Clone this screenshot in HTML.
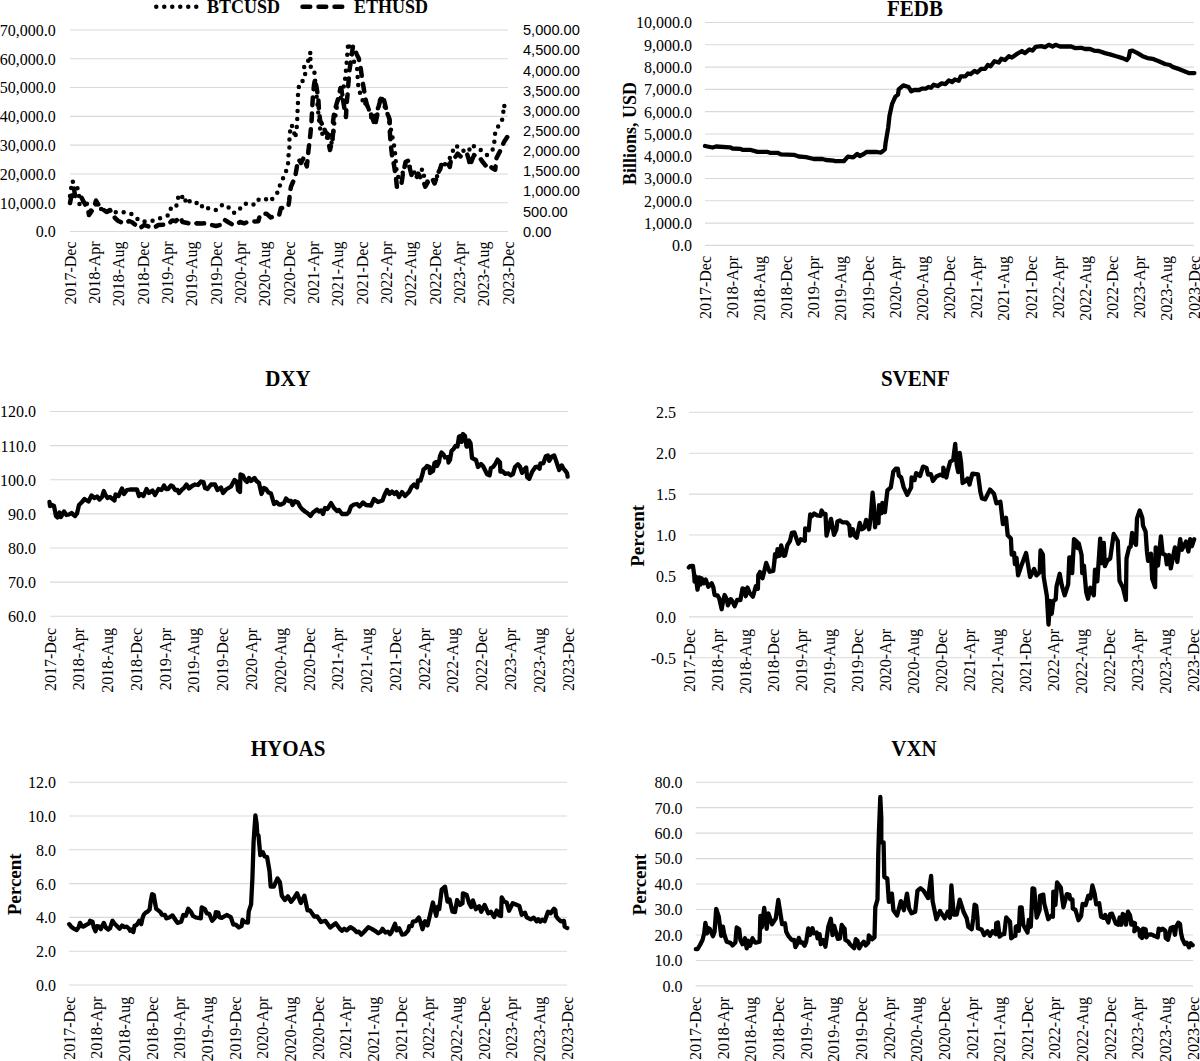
<!DOCTYPE html>
<html><head><meta charset="utf-8"><title>Charts</title>
<style>html,body{margin:0;padding:0;background:#fff;overflow:hidden}svg{display:block}</style>
</head><body>
<svg width="1200" height="1061" viewBox="0 0 1200 1061">
<rect width="1200" height="1061" fill="#fff"/>
<line x1="70" y1="30.00" x2="508" y2="30.00" stroke="#d9d9d9" stroke-width="1.1"/>
<line x1="70" y1="58.79" x2="508" y2="58.79" stroke="#d9d9d9" stroke-width="1.1"/>
<line x1="70" y1="87.57" x2="508" y2="87.57" stroke="#d9d9d9" stroke-width="1.1"/>
<line x1="70" y1="116.36" x2="508" y2="116.36" stroke="#d9d9d9" stroke-width="1.1"/>
<line x1="70" y1="145.14" x2="508" y2="145.14" stroke="#d9d9d9" stroke-width="1.1"/>
<line x1="70" y1="173.93" x2="508" y2="173.93" stroke="#d9d9d9" stroke-width="1.1"/>
<line x1="70" y1="202.71" x2="508" y2="202.71" stroke="#d9d9d9" stroke-width="1.1"/>
<line x1="70" y1="231.50" x2="508" y2="231.50" stroke="#d9d9d9" stroke-width="1.1"/>
<text transform="translate(55.8,35.90) scale(1,1.0)" font-family="'Liberation Serif', serif" font-size="16" text-anchor="end">70,000.0</text>
<text transform="translate(55.8,64.69) scale(1,1.0)" font-family="'Liberation Serif', serif" font-size="16" text-anchor="end">60,000.0</text>
<text transform="translate(55.8,93.47) scale(1,1.0)" font-family="'Liberation Serif', serif" font-size="16" text-anchor="end">50,000.0</text>
<text transform="translate(55.8,122.26) scale(1,1.0)" font-family="'Liberation Serif', serif" font-size="16" text-anchor="end">40,000.0</text>
<text transform="translate(55.8,151.04) scale(1,1.0)" font-family="'Liberation Serif', serif" font-size="16" text-anchor="end">30,000.0</text>
<text transform="translate(55.8,179.83) scale(1,1.0)" font-family="'Liberation Serif', serif" font-size="16" text-anchor="end">20,000.0</text>
<text transform="translate(55.8,208.61) scale(1,1.0)" font-family="'Liberation Serif', serif" font-size="16" text-anchor="end">10,000.0</text>
<text transform="translate(55.8,237.40) scale(1,1.0)" font-family="'Liberation Serif', serif" font-size="16" text-anchor="end">0.0</text>
<text transform="translate(523,35.20) scale(1,1.0)" font-family="'Liberation Sans', sans-serif" font-size="14.6" text-anchor="start">5,000.00</text>
<text transform="translate(523,55.35) scale(1,1.0)" font-family="'Liberation Sans', sans-serif" font-size="14.6" text-anchor="start">4,500.00</text>
<text transform="translate(523,75.50) scale(1,1.0)" font-family="'Liberation Sans', sans-serif" font-size="14.6" text-anchor="start">4,000.00</text>
<text transform="translate(523,95.65) scale(1,1.0)" font-family="'Liberation Sans', sans-serif" font-size="14.6" text-anchor="start">3,500.00</text>
<text transform="translate(523,115.80) scale(1,1.0)" font-family="'Liberation Sans', sans-serif" font-size="14.6" text-anchor="start">3,000.00</text>
<text transform="translate(523,135.95) scale(1,1.0)" font-family="'Liberation Sans', sans-serif" font-size="14.6" text-anchor="start">2,500.00</text>
<text transform="translate(523,156.10) scale(1,1.0)" font-family="'Liberation Sans', sans-serif" font-size="14.6" text-anchor="start">2,000.00</text>
<text transform="translate(523,176.25) scale(1,1.0)" font-family="'Liberation Sans', sans-serif" font-size="14.6" text-anchor="start">1,500.00</text>
<text transform="translate(523,196.40) scale(1,1.0)" font-family="'Liberation Sans', sans-serif" font-size="14.6" text-anchor="start">1,000.00</text>
<text transform="translate(523,216.55) scale(1,1.0)" font-family="'Liberation Sans', sans-serif" font-size="14.6" text-anchor="start">500.00</text>
<text transform="translate(523,236.70) scale(1,1.0)" font-family="'Liberation Sans', sans-serif" font-size="14.6" text-anchor="start">0.00</text>
<text transform="translate(75.60,241.5) rotate(-90) scale(1,1.05)" font-family="'Liberation Serif', serif" font-size="16" text-anchor="end">2017-Dec</text>
<text transform="translate(99.93,241.5) rotate(-90) scale(1,1.05)" font-family="'Liberation Serif', serif" font-size="16" text-anchor="end">2018-Apr</text>
<text transform="translate(124.27,241.5) rotate(-90) scale(1,1.05)" font-family="'Liberation Serif', serif" font-size="16" text-anchor="end">2018-Aug</text>
<text transform="translate(148.60,241.5) rotate(-90) scale(1,1.05)" font-family="'Liberation Serif', serif" font-size="16" text-anchor="end">2018-Dec</text>
<text transform="translate(172.93,241.5) rotate(-90) scale(1,1.05)" font-family="'Liberation Serif', serif" font-size="16" text-anchor="end">2019-Apr</text>
<text transform="translate(197.27,241.5) rotate(-90) scale(1,1.05)" font-family="'Liberation Serif', serif" font-size="16" text-anchor="end">2019-Aug</text>
<text transform="translate(221.60,241.5) rotate(-90) scale(1,1.05)" font-family="'Liberation Serif', serif" font-size="16" text-anchor="end">2019-Dec</text>
<text transform="translate(245.93,241.5) rotate(-90) scale(1,1.05)" font-family="'Liberation Serif', serif" font-size="16" text-anchor="end">2020-Apr</text>
<text transform="translate(270.27,241.5) rotate(-90) scale(1,1.05)" font-family="'Liberation Serif', serif" font-size="16" text-anchor="end">2020-Aug</text>
<text transform="translate(294.60,241.5) rotate(-90) scale(1,1.05)" font-family="'Liberation Serif', serif" font-size="16" text-anchor="end">2020-Dec</text>
<text transform="translate(318.93,241.5) rotate(-90) scale(1,1.05)" font-family="'Liberation Serif', serif" font-size="16" text-anchor="end">2021-Apr</text>
<text transform="translate(343.27,241.5) rotate(-90) scale(1,1.05)" font-family="'Liberation Serif', serif" font-size="16" text-anchor="end">2021-Aug</text>
<text transform="translate(367.60,241.5) rotate(-90) scale(1,1.05)" font-family="'Liberation Serif', serif" font-size="16" text-anchor="end">2021-Dec</text>
<text transform="translate(391.93,241.5) rotate(-90) scale(1,1.05)" font-family="'Liberation Serif', serif" font-size="16" text-anchor="end">2022-Apr</text>
<text transform="translate(416.27,241.5) rotate(-90) scale(1,1.05)" font-family="'Liberation Serif', serif" font-size="16" text-anchor="end">2022-Aug</text>
<text transform="translate(440.60,241.5) rotate(-90) scale(1,1.05)" font-family="'Liberation Serif', serif" font-size="16" text-anchor="end">2022-Dec</text>
<text transform="translate(464.93,241.5) rotate(-90) scale(1,1.05)" font-family="'Liberation Serif', serif" font-size="16" text-anchor="end">2023-Apr</text>
<text transform="translate(489.27,241.5) rotate(-90) scale(1,1.05)" font-family="'Liberation Serif', serif" font-size="16" text-anchor="end">2023-Aug</text>
<text transform="translate(513.60,241.5) rotate(-90) scale(1,1.05)" font-family="'Liberation Serif', serif" font-size="16" text-anchor="end">2023-Dec</text>
<line x1="156.25" y1="6.75" x2="197" y2="6.75" stroke="#000" stroke-width="4.5" stroke-dasharray="0 8" stroke-linecap="round"/>
<line x1="302.5" y1="6.75" x2="343" y2="6.75" stroke="#000" stroke-width="4.5" stroke-dasharray="7.75 8.25" stroke-linecap="round"/>
<text transform="translate(207,13) scale(1,1.05)" font-family="'Liberation Serif', serif" font-size="18" font-weight="bold">BTCUSD</text>
<text transform="translate(354,13) scale(1,1.05)" font-family="'Liberation Serif', serif" font-size="18" font-weight="bold">ETHUSD</text>
<polyline points="70.0,196.0 71.5,186.0 72.5,181.0 74.0,184.0 76.0,186.0 78.0,189.0 79.0,195.0 79.5,204.0 81.0,206.0 83.0,201.0 85.0,199.0 87.0,204.0 89.0,209.0 91.0,210.5 93.0,208.0 95.0,205.0 97.0,204.0 99.0,205.0 101.0,209.0 104.0,211.0 107.0,212.0 110.0,210.5 113.0,211.0 116.5,212.5 120.4,212.1 124.4,212.3 128.3,212.5 131.5,214.0 134.6,215.8 137.5,219.0 140.0,221.2 143.5,221.5 147.1,221.2 151.0,221.0 155.0,220.4 158.3,219.0 161.7,217.5 165.0,216.5 168.3,215.4 170.4,208.8 174.6,209.2 177.9,202.5 178.3,194.6 182.1,196.7 184.2,202.5 187.5,197.5 190.4,202.5 193.3,202.5 196.2,202.5 200.0,207.5 204.2,204.6 208.8,208.8 212.5,209.5 216.7,210.0 219.5,207.5 222.1,205.0 226.7,205.0 229.0,208.0 231.7,211.2 233.3,212.9 238.3,211.7 242.1,205.0 245.0,204.0 248.3,202.9 252.0,204.0 255.0,205.0 259.2,198.8 262.5,199.0 265.8,199.2 269.6,201.7 275.0,196.2 279.2,190.0 280.4,182.1 284.2,176.7 285.8,172.1 288.0,164.5 288.4,156.5 289.4,148.6 289.4,140.2 289.9,132.3 291.4,124.9 293.9,129.8 294.9,138.2 295.9,133.8 296.9,125.8 297.3,117.9 297.6,109.8 298.0,101.8 298.0,93.8 299.0,85.8 302.3,83.9 303.0,76.0 306.5,72.6 304.0,66.5 307.4,63.6 310.5,52.0 310.3,66.5 314.0,68.4 314.5,73.1 315.5,85.0 317.0,100.0 318.5,115.0 320.0,128.0 322.0,135.0 324.0,128.0 326.0,135.0 328.0,140.0 330.0,135.0 332.0,145.0 334.0,125.0 336.0,112.0 338.0,100.0 340.0,95.0 341.5,100.0 343.0,90.0 345.0,80.0 346.5,65.0 348.2,42.7 350.0,50.0 352.0,55.0 354.3,62.5 357.1,68.2 357.6,76.2 358.1,84.2 359.5,91.7 362.3,97.9 363.3,105.4 366.0,103.0 369.0,110.0 372.0,120.0 375.0,115.0 378.0,108.0 381.0,96.0 384.0,105.0 387.0,112.0 390.0,125.0 392.0,135.0 394.0,145.1 395.0,152.7 395.7,161.0 396.3,168.3 397.0,175.0 399.0,178.0 401.6,176.0 403.0,172.0 405.6,165.0 408.9,163.0 410.0,168.0 413.5,170.0 416.0,178.0 418.0,173.5 422.7,169.0 424.0,176.0 426.0,182.0 429.3,181.0 432.0,180.0 434.6,183.0 437.2,176.0 438.5,172.0 440.2,168.9 441.2,165.0 445.1,164.3 447.8,160.0 449.8,158.0 451.1,154.0 452.6,151.2 456.0,145.2 460.2,150.0 464.5,151.0 468.9,151.9 470.4,145.2 476.8,147.0 481.7,150.8 487.0,155.0 490.7,151.9 493.4,148.5 494.5,140.6 495.2,132.7 498.6,125.5 502.0,120.6 503.2,112.7 504.3,105.9" fill="none" stroke="#000" stroke-width="4.5" stroke-linejoin="round" stroke-linecap="round" stroke-dasharray="0 8"/>
<circle cx="504.3" cy="105.9" r="2.25" fill="#000"/>
<polyline points="70.0,203.0 71.0,198.0 72.5,192.0 74.0,188.0 75.0,196.0 77.0,197.0 79.0,198.0 81.0,196.5 83.0,200.5 85.5,205.0 88.0,209.5 89.0,215.0 91.0,212.0 93.0,209.0 95.0,204.0 96.0,200.5 98.0,204.0 100.0,207.0 103.0,209.5 106.5,212.0 110.0,210.0 112.5,214.0 115.0,218.0 118.3,221.0 122.0,222.5 126.7,223.0 129.0,221.0 131.7,222.0 135.5,225.0 139.2,228.3 141.5,227.0 144.2,225.0 148.5,226.5 153.3,228.0 156.0,226.5 158.3,225.0 163.0,224.8 168.3,224.6 171.7,220.8 172.5,220.4 175.8,221.2 179.2,217.5 180.0,217.0 182.5,222.0 187.5,223.0 192.5,224.2 196.7,223.3 201.7,223.4 206.7,223.3 211.7,225.0 216.0,226.0 220.0,225.0 224.2,219.6 228.0,222.0 231.7,224.2 235.8,225.0 240.0,222.0 244.2,223.3 248.3,221.7 253.0,221.5 258.3,221.2 260.0,215.0 263.3,214.0 266.7,213.8 270.8,217.5 275.0,216.0 279.2,215.0 280.8,208.3 284.5,207.5 288.3,206.7 289.2,200.8 290.0,191.7 291.0,186.7 293.0,182.0 295.0,178.3 296.0,172.0 297.0,166.0 298.8,159.5 301.0,163.0 303.8,157.5 306.8,166.4 307.7,158.5 308.5,150.0 309.5,142.0 310.5,133.0 311.5,122.0 312.2,108.0 313.0,95.0 314.0,85.0 315.0,79.0 317.0,90.0 318.4,100.0 319.0,111.0 320.2,121.0 322.0,124.0 324.0,128.0 326.0,133.0 327.6,134.0 328.0,140.0 330.0,150.0 331.5,144.0 332.5,138.0 333.5,130.0 333.0,122.0 334.0,114.0 336.0,106.0 338.6,97.0 340.5,88.0 341.4,89.0 343.0,100.0 345.0,112.0 346.0,117.0 346.5,105.0 347.5,95.0 348.5,82.0 349.5,70.0 351.0,60.0 353.0,46.0 355.0,50.0 357.0,55.0 358.6,58.0 360.4,66.0 362.3,80.0 364.0,90.0 365.2,98.0 367.0,105.0 370.0,112.0 372.5,118.0 375.0,126.0 377.0,116.0 379.0,105.0 381.0,98.0 383.0,96.0 385.9,108.0 387.5,113.0 389.7,120.0 389.7,130.0 390.8,145.0 392.0,155.0 394.0,165.0 396.0,178.0 397.0,188.0 399.5,185.0 401.6,182.8 403.0,173.5 405.6,162.0 408.9,160.3 409.5,167.0 411.5,174.9 414.0,176.0 416.1,178.8 418.1,173.5 421.4,178.8 423.0,180.0 425.3,186.7 428.0,182.0 431.9,178.2 434.6,183.4 437.2,176.2 438.5,172.2 440.2,168.9 441.2,165.0 445.1,164.3 447.8,163.0 449.8,166.9 451.1,159.0 453.7,159.0 456.0,156.0 457.7,153.7 460.0,156.0 462.3,157.7 465.1,155.0 467.3,154.6 469.0,160.0 470.0,165.9 472.0,160.0 474.1,155.0 477.0,157.0 479.4,157.0 482.0,161.0 484.7,164.4 487.0,167.0 489.2,165.1 492.0,168.0 495.2,169.7 496.5,158.0 499.8,151.6 501.3,148.5 504.0,142.0 508.1,135.7" fill="none" stroke="#000" stroke-width="4.5" stroke-linejoin="round" stroke-linecap="round" stroke-dasharray="7.75 8.25"/>
<line x1="705" y1="22.50" x2="1194" y2="22.50" stroke="#d9d9d9" stroke-width="1.1"/>
<line x1="705" y1="44.79" x2="1194" y2="44.79" stroke="#d9d9d9" stroke-width="1.1"/>
<line x1="705" y1="67.08" x2="1194" y2="67.08" stroke="#d9d9d9" stroke-width="1.1"/>
<line x1="705" y1="89.37" x2="1194" y2="89.37" stroke="#d9d9d9" stroke-width="1.1"/>
<line x1="705" y1="111.66" x2="1194" y2="111.66" stroke="#d9d9d9" stroke-width="1.1"/>
<line x1="705" y1="133.95" x2="1194" y2="133.95" stroke="#d9d9d9" stroke-width="1.1"/>
<line x1="705" y1="156.24" x2="1194" y2="156.24" stroke="#d9d9d9" stroke-width="1.1"/>
<line x1="705" y1="178.53" x2="1194" y2="178.53" stroke="#d9d9d9" stroke-width="1.1"/>
<line x1="705" y1="200.82" x2="1194" y2="200.82" stroke="#d9d9d9" stroke-width="1.1"/>
<line x1="705" y1="223.11" x2="1194" y2="223.11" stroke="#d9d9d9" stroke-width="1.1"/>
<line x1="705" y1="245.40" x2="1194" y2="245.40" stroke="#d9d9d9" stroke-width="1.1"/>
<text transform="translate(692,28.40) scale(1,1.0)" font-family="'Liberation Serif', serif" font-size="16" text-anchor="end">10,000.0</text>
<text transform="translate(692,50.69) scale(1,1.0)" font-family="'Liberation Serif', serif" font-size="16" text-anchor="end">9,000.0</text>
<text transform="translate(692,72.98) scale(1,1.0)" font-family="'Liberation Serif', serif" font-size="16" text-anchor="end">8,000.0</text>
<text transform="translate(692,95.27) scale(1,1.0)" font-family="'Liberation Serif', serif" font-size="16" text-anchor="end">7,000.0</text>
<text transform="translate(692,117.56) scale(1,1.0)" font-family="'Liberation Serif', serif" font-size="16" text-anchor="end">6,000.0</text>
<text transform="translate(692,139.85) scale(1,1.0)" font-family="'Liberation Serif', serif" font-size="16" text-anchor="end">5,000.0</text>
<text transform="translate(692,162.14) scale(1,1.0)" font-family="'Liberation Serif', serif" font-size="16" text-anchor="end">4,000.0</text>
<text transform="translate(692,184.43) scale(1,1.0)" font-family="'Liberation Serif', serif" font-size="16" text-anchor="end">3,000.0</text>
<text transform="translate(692,206.72) scale(1,1.0)" font-family="'Liberation Serif', serif" font-size="16" text-anchor="end">2,000.0</text>
<text transform="translate(692,229.01) scale(1,1.0)" font-family="'Liberation Serif', serif" font-size="16" text-anchor="end">1,000.0</text>
<text transform="translate(692,251.30) scale(1,1.0)" font-family="'Liberation Serif', serif" font-size="16" text-anchor="end">0.0</text>
<text transform="translate(710.60,256) rotate(-90) scale(1,1.05)" font-family="'Liberation Serif', serif" font-size="16" text-anchor="end">2017-Dec</text>
<text transform="translate(737.77,256) rotate(-90) scale(1,1.05)" font-family="'Liberation Serif', serif" font-size="16" text-anchor="end">2018-Apr</text>
<text transform="translate(764.93,256) rotate(-90) scale(1,1.05)" font-family="'Liberation Serif', serif" font-size="16" text-anchor="end">2018-Aug</text>
<text transform="translate(792.10,256) rotate(-90) scale(1,1.05)" font-family="'Liberation Serif', serif" font-size="16" text-anchor="end">2018-Dec</text>
<text transform="translate(819.27,256) rotate(-90) scale(1,1.05)" font-family="'Liberation Serif', serif" font-size="16" text-anchor="end">2019-Apr</text>
<text transform="translate(846.43,256) rotate(-90) scale(1,1.05)" font-family="'Liberation Serif', serif" font-size="16" text-anchor="end">2019-Aug</text>
<text transform="translate(873.60,256) rotate(-90) scale(1,1.05)" font-family="'Liberation Serif', serif" font-size="16" text-anchor="end">2019-Dec</text>
<text transform="translate(900.77,256) rotate(-90) scale(1,1.05)" font-family="'Liberation Serif', serif" font-size="16" text-anchor="end">2020-Apr</text>
<text transform="translate(927.93,256) rotate(-90) scale(1,1.05)" font-family="'Liberation Serif', serif" font-size="16" text-anchor="end">2020-Aug</text>
<text transform="translate(955.10,256) rotate(-90) scale(1,1.05)" font-family="'Liberation Serif', serif" font-size="16" text-anchor="end">2020-Dec</text>
<text transform="translate(982.27,256) rotate(-90) scale(1,1.05)" font-family="'Liberation Serif', serif" font-size="16" text-anchor="end">2021-Apr</text>
<text transform="translate(1009.43,256) rotate(-90) scale(1,1.05)" font-family="'Liberation Serif', serif" font-size="16" text-anchor="end">2021-Aug</text>
<text transform="translate(1036.60,256) rotate(-90) scale(1,1.05)" font-family="'Liberation Serif', serif" font-size="16" text-anchor="end">2021-Dec</text>
<text transform="translate(1063.77,256) rotate(-90) scale(1,1.05)" font-family="'Liberation Serif', serif" font-size="16" text-anchor="end">2022-Apr</text>
<text transform="translate(1090.93,256) rotate(-90) scale(1,1.05)" font-family="'Liberation Serif', serif" font-size="16" text-anchor="end">2022-Aug</text>
<text transform="translate(1118.10,256) rotate(-90) scale(1,1.05)" font-family="'Liberation Serif', serif" font-size="16" text-anchor="end">2022-Dec</text>
<text transform="translate(1145.27,256) rotate(-90) scale(1,1.05)" font-family="'Liberation Serif', serif" font-size="16" text-anchor="end">2023-Apr</text>
<text transform="translate(1172.43,256) rotate(-90) scale(1,1.05)" font-family="'Liberation Serif', serif" font-size="16" text-anchor="end">2023-Aug</text>
<text transform="translate(1199.60,256) rotate(-90) scale(1,1.05)" font-family="'Liberation Serif', serif" font-size="16" text-anchor="end">2023-Dec</text>
<text transform="translate(915,15.6) scale(1,1.07)" font-family="'Liberation Serif', serif" font-size="21" font-weight="bold" text-anchor="middle">FEDB</text>
<text transform="translate(635.90,133.5) rotate(-90)" font-family="'Liberation Serif', serif" font-size="18" font-weight="bold" text-anchor="middle">Billions, USD</text>
<polyline points="705.0,146.0 712.5,147.5 716.0,146.5 730.0,147.3 732.5,148.5 740.0,148.8 742.5,149.8 750.0,149.8 757.5,151.9 767.5,151.9 770.0,152.8 777.5,152.8 781.0,154.4 793.8,154.8 798.8,156.5 806.0,157.2 813.8,159.0 822.5,159.0 826.0,160.0 833.8,160.6 835.0,161.2 843.8,161.2 847.9,156.6 853.2,157.3 857.2,154.0 859.8,156.0 863.7,154.0 866.4,152.0 876.9,152.0 880.9,152.7 884.9,149.4 885.5,143.5 888.2,127.6 889.5,115.8 892.1,103.9 895.4,96.6 898.0,94.6 898.7,89.4 903.3,85.4 908.6,87.0 911.2,91.3 913.9,90.0 919.2,90.0 921.8,88.7 925.8,88.7 928.4,87.0 931.0,87.8 933.7,84.7 937.6,86.1 941.6,83.4 945.5,84.1 948.8,80.4 952.1,82.1 954.8,79.5 958.7,80.8 960.7,76.4 965.3,76.4 968.0,73.5 970.6,74.2 974.6,70.9 977.2,72.5 981.2,68.9 985.1,68.9 987.8,65.0 990.6,66.2 994.4,61.2 998.8,62.5 1001.2,58.8 1005.0,60.0 1008.8,56.2 1011.9,57.5 1016.2,54.4 1021.9,51.0 1025.0,53.1 1029.4,49.4 1032.5,50.6 1035.6,46.9 1041.2,46.2 1045.0,47.2 1048.8,44.8 1052.5,46.5 1055.6,44.8 1060.0,46.5 1071.2,46.5 1075.0,48.1 1081.2,47.8 1085.0,49.0 1090.0,49.0 1093.8,50.6 1098.8,51.0 1105.0,53.1 1110.0,54.4 1116.2,56.2 1122.5,58.1 1126.9,60.0 1128.8,57.5 1130.0,51.2 1132.5,50.6 1137.5,53.1 1142.5,56.2 1147.5,58.1 1152.5,58.8 1158.8,61.2 1165.0,64.0 1170.0,65.0 1172.5,66.9 1180.0,69.4 1186.2,71.9 1188.8,73.1 1194.4,73.1" fill="none" stroke="#000" stroke-width="4.3" stroke-linejoin="round" stroke-linecap="round"/>
<line x1="50" y1="411.50" x2="568" y2="411.50" stroke="#d9d9d9" stroke-width="1.1"/>
<line x1="50" y1="445.63" x2="568" y2="445.63" stroke="#d9d9d9" stroke-width="1.1"/>
<line x1="50" y1="479.77" x2="568" y2="479.77" stroke="#d9d9d9" stroke-width="1.1"/>
<line x1="50" y1="513.90" x2="568" y2="513.90" stroke="#d9d9d9" stroke-width="1.1"/>
<line x1="50" y1="548.03" x2="568" y2="548.03" stroke="#d9d9d9" stroke-width="1.1"/>
<line x1="50" y1="582.17" x2="568" y2="582.17" stroke="#d9d9d9" stroke-width="1.1"/>
<line x1="50" y1="616.30" x2="568" y2="616.30" stroke="#d9d9d9" stroke-width="1.1"/>
<text transform="translate(36,417.40) scale(1,1.0)" font-family="'Liberation Serif', serif" font-size="16" text-anchor="end">120.0</text>
<text transform="translate(36,451.53) scale(1,1.0)" font-family="'Liberation Serif', serif" font-size="16" text-anchor="end">110.0</text>
<text transform="translate(36,485.67) scale(1,1.0)" font-family="'Liberation Serif', serif" font-size="16" text-anchor="end">100.0</text>
<text transform="translate(36,519.80) scale(1,1.0)" font-family="'Liberation Serif', serif" font-size="16" text-anchor="end">90.0</text>
<text transform="translate(36,553.93) scale(1,1.0)" font-family="'Liberation Serif', serif" font-size="16" text-anchor="end">80.0</text>
<text transform="translate(36,588.07) scale(1,1.0)" font-family="'Liberation Serif', serif" font-size="16" text-anchor="end">70.0</text>
<text transform="translate(36,622.20) scale(1,1.0)" font-family="'Liberation Serif', serif" font-size="16" text-anchor="end">60.0</text>
<text transform="translate(55.60,628) rotate(-90) scale(1,1.05)" font-family="'Liberation Serif', serif" font-size="16" text-anchor="end">2017-Dec</text>
<text transform="translate(84.38,628) rotate(-90) scale(1,1.05)" font-family="'Liberation Serif', serif" font-size="16" text-anchor="end">2018-Apr</text>
<text transform="translate(113.16,628) rotate(-90) scale(1,1.05)" font-family="'Liberation Serif', serif" font-size="16" text-anchor="end">2018-Aug</text>
<text transform="translate(141.93,628) rotate(-90) scale(1,1.05)" font-family="'Liberation Serif', serif" font-size="16" text-anchor="end">2018-Dec</text>
<text transform="translate(170.71,628) rotate(-90) scale(1,1.05)" font-family="'Liberation Serif', serif" font-size="16" text-anchor="end">2019-Apr</text>
<text transform="translate(199.49,628) rotate(-90) scale(1,1.05)" font-family="'Liberation Serif', serif" font-size="16" text-anchor="end">2019-Aug</text>
<text transform="translate(228.27,628) rotate(-90) scale(1,1.05)" font-family="'Liberation Serif', serif" font-size="16" text-anchor="end">2019-Dec</text>
<text transform="translate(257.04,628) rotate(-90) scale(1,1.05)" font-family="'Liberation Serif', serif" font-size="16" text-anchor="end">2020-Apr</text>
<text transform="translate(285.82,628) rotate(-90) scale(1,1.05)" font-family="'Liberation Serif', serif" font-size="16" text-anchor="end">2020-Aug</text>
<text transform="translate(314.60,628) rotate(-90) scale(1,1.05)" font-family="'Liberation Serif', serif" font-size="16" text-anchor="end">2020-Dec</text>
<text transform="translate(343.38,628) rotate(-90) scale(1,1.05)" font-family="'Liberation Serif', serif" font-size="16" text-anchor="end">2021-Apr</text>
<text transform="translate(372.16,628) rotate(-90) scale(1,1.05)" font-family="'Liberation Serif', serif" font-size="16" text-anchor="end">2021-Aug</text>
<text transform="translate(400.93,628) rotate(-90) scale(1,1.05)" font-family="'Liberation Serif', serif" font-size="16" text-anchor="end">2021-Dec</text>
<text transform="translate(429.71,628) rotate(-90) scale(1,1.05)" font-family="'Liberation Serif', serif" font-size="16" text-anchor="end">2022-Apr</text>
<text transform="translate(458.49,628) rotate(-90) scale(1,1.05)" font-family="'Liberation Serif', serif" font-size="16" text-anchor="end">2022-Aug</text>
<text transform="translate(487.27,628) rotate(-90) scale(1,1.05)" font-family="'Liberation Serif', serif" font-size="16" text-anchor="end">2022-Dec</text>
<text transform="translate(516.04,628) rotate(-90) scale(1,1.05)" font-family="'Liberation Serif', serif" font-size="16" text-anchor="end">2023-Apr</text>
<text transform="translate(544.82,628) rotate(-90) scale(1,1.05)" font-family="'Liberation Serif', serif" font-size="16" text-anchor="end">2023-Aug</text>
<text transform="translate(573.60,628) rotate(-90) scale(1,1.05)" font-family="'Liberation Serif', serif" font-size="16" text-anchor="end">2023-Dec</text>
<text transform="translate(288,385.6) scale(1,1.07)" font-family="'Liberation Serif', serif" font-size="21" font-weight="bold" text-anchor="middle">DXY</text>
<polyline points="49.5,502.0 50.0,506.0 52.0,505.0 54.0,506.0 56.0,516.0 57.5,517.5 59.5,512.5 61.0,517.0 64.0,511.5 66.5,515.0 69.0,514.5 71.5,513.0 75.0,516.0 77.0,513.5 79.0,505.0 82.0,502.0 84.5,499.0 88.5,501.5 91.5,495.5 94.5,498.0 97.0,496.5 99.5,499.5 102.0,497.0 103.8,491.0 105.5,495.0 107.5,498.0 110.0,497.0 114.5,500.5 115.5,494.5 118.5,496.0 122.0,488.5 124.0,494.0 127.0,490.0 130.0,489.5 137.0,489.5 139.0,496.0 141.0,494.0 143.5,496.0 146.5,489.0 149.0,493.0 152.5,490.5 155.0,495.0 158.5,489.0 161.5,490.0 164.0,485.5 166.0,489.0 168.0,489.0 171.0,485.5 173.0,486.5 175.0,490.0 177.5,490.0 179.0,493.0 182.0,489.5 184.0,488.0 186.5,484.5 189.0,488.5 192.0,486.0 195.0,484.5 198.0,485.0 201.0,481.5 203.5,482.0 205.0,488.0 207.5,489.0 211.0,484.5 215.0,484.5 217.5,490.0 221.0,487.5 223.0,493.0 226.0,489.5 231.0,486.5 234.5,480.0 237.0,482.0 238.0,490.0 240.0,492.0 240.5,474.5 243.0,475.5 245.0,480.0 247.0,482.0 249.0,478.0 251.0,481.0 254.5,478.0 256.5,481.0 259.0,483.0 261.5,494.0 264.0,488.0 266.0,489.0 268.5,492.5 271.0,493.5 274.0,504.0 276.5,502.0 279.0,504.5 281.0,504.5 284.0,503.0 286.0,498.5 288.5,501.0 291.0,501.0 292.5,505.0 295.0,501.2 298.0,502.5 300.0,506.5 302.0,509.0 305.0,511.5 308.0,513.5 310.5,516.0 313.0,512.5 317.0,509.5 319.0,511.5 321.0,510.5 323.0,514.0 325.0,508.0 327.5,509.0 331.0,503.0 334.0,508.0 337.0,511.0 339.0,510.0 342.0,514.0 347.0,514.0 349.0,512.0 351.0,506.5 354.0,504.5 357.0,504.0 359.5,506.5 363.0,502.5 366.0,505.0 371.0,505.5 374.0,499.0 378.0,502.0 382.5,500.5 384.5,495.0 387.0,490.0 389.5,494.0 392.0,491.5 394.5,494.0 396.5,492.0 399.0,497.0 402.0,492.0 405.0,496.0 409.0,492.0 411.5,487.0 414.0,484.5 417.0,487.5 418.0,480.5 420.5,480.5 422.5,474.0 423.5,469.5 425.5,468.0 427.0,466.0 429.5,467.0 430.0,473.0 433.0,471.0 434.5,463.0 436.0,462.0 437.0,466.0 439.0,462.0 440.0,456.0 441.5,452.5 443.5,454.5 445.0,457.5 448.0,457.0 448.5,462.5 450.0,460.0 451.5,451.0 453.5,449.0 455.5,446.0 457.5,446.5 459.0,436.5 460.5,436.0 461.5,442.0 463.0,434.0 465.0,436.0 466.5,446.5 467.5,446.5 469.0,440.5 470.5,443.0 472.0,458.0 474.0,459.0 476.0,460.0 478.0,467.0 481.0,464.0 483.0,466.0 485.0,470.0 487.1,474.2 489.6,475.4 490.8,468.3 493.3,466.7 495.4,463.8 497.5,459.6 500.0,462.5 500.4,471.7 502.5,471.2 505.0,473.8 508.3,473.3 510.8,475.4 512.9,474.2 515.0,467.1 517.9,464.2 520.0,466.7 522.1,472.9 524.2,469.6 526.2,467.5 527.1,477.1 529.2,478.8 532.5,471.2 535.4,467.1 537.5,466.7 539.6,468.8 540.4,463.3 543.3,463.3 545.8,456.2 547.9,455.4 549.2,460.8 551.7,456.7 554.2,455.4 555.8,460.0 559.2,470.0 561.7,465.4 563.3,468.3 565.4,470.8 567.1,473.3 567.6,476.7" fill="none" stroke="#000" stroke-width="4.3" stroke-linejoin="round" stroke-linecap="round"/>
<line x1="689" y1="412.30" x2="1193" y2="412.30" stroke="#d9d9d9" stroke-width="1.1"/>
<line x1="689" y1="453.22" x2="1193" y2="453.22" stroke="#d9d9d9" stroke-width="1.1"/>
<line x1="689" y1="494.13" x2="1193" y2="494.13" stroke="#d9d9d9" stroke-width="1.1"/>
<line x1="689" y1="535.05" x2="1193" y2="535.05" stroke="#d9d9d9" stroke-width="1.1"/>
<line x1="689" y1="575.97" x2="1193" y2="575.97" stroke="#d9d9d9" stroke-width="1.1"/>
<line x1="689" y1="616.88" x2="1193" y2="616.88" stroke="#d9d9d9" stroke-width="1.1"/>
<line x1="689" y1="657.80" x2="1193" y2="657.80" stroke="#d9d9d9" stroke-width="1.1"/>
<text transform="translate(676,418.20) scale(1,1.0)" font-family="'Liberation Serif', serif" font-size="16" text-anchor="end">2.5</text>
<text transform="translate(676,459.12) scale(1,1.0)" font-family="'Liberation Serif', serif" font-size="16" text-anchor="end">2.0</text>
<text transform="translate(676,500.03) scale(1,1.0)" font-family="'Liberation Serif', serif" font-size="16" text-anchor="end">1.5</text>
<text transform="translate(676,540.95) scale(1,1.0)" font-family="'Liberation Serif', serif" font-size="16" text-anchor="end">1.0</text>
<text transform="translate(676,581.87) scale(1,1.0)" font-family="'Liberation Serif', serif" font-size="16" text-anchor="end">0.5</text>
<text transform="translate(676,622.78) scale(1,1.0)" font-family="'Liberation Serif', serif" font-size="16" text-anchor="end">0.0</text>
<text transform="translate(676,663.70) scale(1,1.0)" font-family="'Liberation Serif', serif" font-size="16" text-anchor="end">-0.5</text>
<text transform="translate(694.60,629) rotate(-90) scale(1,1.05)" font-family="'Liberation Serif', serif" font-size="16" text-anchor="end">2017-Dec</text>
<text transform="translate(722.60,629) rotate(-90) scale(1,1.05)" font-family="'Liberation Serif', serif" font-size="16" text-anchor="end">2018-Apr</text>
<text transform="translate(750.60,629) rotate(-90) scale(1,1.05)" font-family="'Liberation Serif', serif" font-size="16" text-anchor="end">2018-Aug</text>
<text transform="translate(778.60,629) rotate(-90) scale(1,1.05)" font-family="'Liberation Serif', serif" font-size="16" text-anchor="end">2018-Dec</text>
<text transform="translate(806.60,629) rotate(-90) scale(1,1.05)" font-family="'Liberation Serif', serif" font-size="16" text-anchor="end">2019-Apr</text>
<text transform="translate(834.60,629) rotate(-90) scale(1,1.05)" font-family="'Liberation Serif', serif" font-size="16" text-anchor="end">2019-Aug</text>
<text transform="translate(862.60,629) rotate(-90) scale(1,1.05)" font-family="'Liberation Serif', serif" font-size="16" text-anchor="end">2019-Dec</text>
<text transform="translate(890.60,629) rotate(-90) scale(1,1.05)" font-family="'Liberation Serif', serif" font-size="16" text-anchor="end">2020-Apr</text>
<text transform="translate(918.60,629) rotate(-90) scale(1,1.05)" font-family="'Liberation Serif', serif" font-size="16" text-anchor="end">2020-Aug</text>
<text transform="translate(946.60,629) rotate(-90) scale(1,1.05)" font-family="'Liberation Serif', serif" font-size="16" text-anchor="end">2020-Dec</text>
<text transform="translate(974.60,629) rotate(-90) scale(1,1.05)" font-family="'Liberation Serif', serif" font-size="16" text-anchor="end">2021-Apr</text>
<text transform="translate(1002.60,629) rotate(-90) scale(1,1.05)" font-family="'Liberation Serif', serif" font-size="16" text-anchor="end">2021-Aug</text>
<text transform="translate(1030.60,629) rotate(-90) scale(1,1.05)" font-family="'Liberation Serif', serif" font-size="16" text-anchor="end">2021-Dec</text>
<text transform="translate(1058.60,629) rotate(-90) scale(1,1.05)" font-family="'Liberation Serif', serif" font-size="16" text-anchor="end">2022-Apr</text>
<text transform="translate(1086.60,629) rotate(-90) scale(1,1.05)" font-family="'Liberation Serif', serif" font-size="16" text-anchor="end">2022-Aug</text>
<text transform="translate(1114.60,629) rotate(-90) scale(1,1.05)" font-family="'Liberation Serif', serif" font-size="16" text-anchor="end">2022-Dec</text>
<text transform="translate(1142.60,629) rotate(-90) scale(1,1.05)" font-family="'Liberation Serif', serif" font-size="16" text-anchor="end">2023-Apr</text>
<text transform="translate(1170.60,629) rotate(-90) scale(1,1.05)" font-family="'Liberation Serif', serif" font-size="16" text-anchor="end">2023-Aug</text>
<text transform="translate(1198.60,629) rotate(-90) scale(1,1.05)" font-family="'Liberation Serif', serif" font-size="16" text-anchor="end">2023-Dec</text>
<text transform="translate(915.3,385.5) scale(1,1.07)" font-family="'Liberation Serif', serif" font-size="21" font-weight="bold" text-anchor="middle">SVENF</text>
<text transform="translate(643.70,535.8) rotate(-90)" font-family="'Liberation Serif', serif" font-size="19" font-weight="bold" text-anchor="middle">Percent</text>
<polyline points="688.8,567.5 690.0,566.2 692.9,565.8 694.2,575.0 694.6,581.7 695.8,576.7 697.5,589.6 699.2,577.5 700.4,584.6 701.7,578.3 703.8,583.3 705.8,579.6 708.3,586.7 711.7,583.3 713.3,587.1 714.6,595.0 717.5,595.4 719.2,598.3 721.7,609.2 722.5,604.2 724.6,595.0 726.7,599.2 727.9,605.4 730.8,599.2 732.1,600.8 734.6,606.2 737.1,600.0 740.4,600.0 742.5,588.3 744.2,589.2 745.8,596.2 747.5,587.5 749.6,592.9 752.9,596.7 755.8,586.2 757.9,588.8 758.3,575.0 760.0,572.1 762.5,578.3 763.8,573.3 766.2,562.9 769.6,571.7 773.3,570.8 774.6,559.6 775.0,554.2 776.7,556.7 777.5,549.2 779.6,555.8 781.2,545.4 783.8,555.8 785.0,555.5 787.4,545.1 789.9,541.2 791.9,532.8 794.4,532.3 796.3,538.2 798.3,543.7 800.8,539.2 804.8,540.7 805.2,528.3 807.2,529.3 808.7,530.3 810.2,514.5 811.7,516.4 814.2,513.5 817.1,515.4 820.6,515.9 821.6,510.5 823.6,514.0 825.5,514.0 826.5,535.7 828.5,528.3 831.0,518.9 834.0,534.8 836.4,529.3 837.4,521.4 839.9,520.4 842.4,522.4 846.8,522.4 849.3,525.3 850.3,535.7 852.8,529.3 854.3,535.2 856.7,537.7 859.7,522.9 861.7,529.3 864.2,527.8 866.1,519.9 869.1,529.3 870.6,518.4 872.6,492.7 874.6,513.5 875.0,527.3 877.0,516.1 878.5,523.1 879.0,505.2 881.4,513.2 882.4,502.8 884.9,512.2 887.4,490.4 890.8,487.4 893.3,471.6 895.8,468.6 897.8,468.6 898.8,475.5 901.2,477.5 903.7,487.4 907.2,494.9 911.1,487.4 911.6,477.5 914.6,480.0 916.1,473.1 920.0,476.0 923.0,466.6 926.5,468.1 928.0,474.6 930.9,474.1 932.9,481.0 936.4,476.5 940.3,474.6 943.3,476.0 943.3,467.6 946.3,477.5 947.8,470.6 950.2,461.7 953.2,459.7 955.2,443.9 956.7,464.7 958.2,472.1 959.7,452.8 961.1,462.7 962.6,483.0 965.1,481.5 967.6,478.5 969.6,484.5 970.0,482.4 972.4,473.6 978.0,474.4 980.4,492.0 982.0,498.5 985.2,499.3 990.0,489.6 994.0,493.7 996.4,503.3 1000.4,501.7 1002.9,524.1 1006.0,517.7 1007.7,535.3 1010.9,538.5 1011.7,554.6 1014.1,553.0 1014.9,564.2 1016.5,557.8 1018.1,575.4 1021.3,565.8 1026.1,553.0 1030.1,577.0 1034.1,569.0 1036.5,575.4 1039.7,572.2 1040.5,550.5 1042.9,554.6 1043.7,577.0 1046.9,596.2 1048.5,624.5 1050.1,601.0 1051.7,613.8 1053.3,601.0 1055.7,599.4 1056.5,586.6 1059.7,573.8 1061.8,585.3 1064.7,595.3 1068.2,584.2 1069.3,557.3 1071.1,557.3 1072.2,573.1 1074.0,539.2 1076.9,541.6 1077.5,548.0 1078.7,543.3 1081.6,555.0 1082.2,573.1 1083.9,565.5 1086.2,592.3 1088.0,598.8 1090.3,587.7 1093.8,595.3 1095.0,569.6 1097.3,581.3 1100.2,538.7 1101.4,563.2 1103.8,542.8 1104.9,566.1 1107.2,560.8 1110.2,558.5 1113.7,534.0 1117.8,541.0 1119.5,580.7 1123.0,587.7 1125.9,599.9 1126.5,558.5 1129.1,547.4 1130.6,546.8 1132.1,532.9 1134.1,541.6 1136.0,544.8 1137.0,518.4 1139.7,510.5 1142.3,517.7 1143.0,525.6 1145.6,531.6 1147.0,552.0 1148.1,560.8 1151.0,553.8 1152.2,578.9 1155.1,587.1 1155.7,547.4 1158.0,565.5 1160.9,536.3 1162.7,553.8 1165.6,555.0 1166.8,564.3 1169.1,555.0 1170.8,568.4 1174.9,547.4 1177.3,562.0 1180.2,539.2 1181.9,549.8 1186.0,541.6 1188.4,551.5 1190.1,539.2 1191.9,546.2 1194.2,539.2" fill="none" stroke="#000" stroke-width="4.3" stroke-linejoin="round" stroke-linecap="round"/>
<line x1="69" y1="782.20" x2="567" y2="782.20" stroke="#d9d9d9" stroke-width="1.1"/>
<line x1="69" y1="816.00" x2="567" y2="816.00" stroke="#d9d9d9" stroke-width="1.1"/>
<line x1="69" y1="849.80" x2="567" y2="849.80" stroke="#d9d9d9" stroke-width="1.1"/>
<line x1="69" y1="883.60" x2="567" y2="883.60" stroke="#d9d9d9" stroke-width="1.1"/>
<line x1="69" y1="917.40" x2="567" y2="917.40" stroke="#d9d9d9" stroke-width="1.1"/>
<line x1="69" y1="951.20" x2="567" y2="951.20" stroke="#d9d9d9" stroke-width="1.1"/>
<line x1="69" y1="985.00" x2="567" y2="985.00" stroke="#d9d9d9" stroke-width="1.1"/>
<text transform="translate(56,788.10) scale(1,1.0)" font-family="'Liberation Serif', serif" font-size="16" text-anchor="end">12.0</text>
<text transform="translate(56,821.90) scale(1,1.0)" font-family="'Liberation Serif', serif" font-size="16" text-anchor="end">10.0</text>
<text transform="translate(56,855.70) scale(1,1.0)" font-family="'Liberation Serif', serif" font-size="16" text-anchor="end">8.0</text>
<text transform="translate(56,889.50) scale(1,1.0)" font-family="'Liberation Serif', serif" font-size="16" text-anchor="end">6.0</text>
<text transform="translate(56,923.30) scale(1,1.0)" font-family="'Liberation Serif', serif" font-size="16" text-anchor="end">4.0</text>
<text transform="translate(56,957.10) scale(1,1.0)" font-family="'Liberation Serif', serif" font-size="16" text-anchor="end">2.0</text>
<text transform="translate(56,990.90) scale(1,1.0)" font-family="'Liberation Serif', serif" font-size="16" text-anchor="end">0.0</text>
<text transform="translate(74.60,996.7) rotate(-90) scale(1,1.05)" font-family="'Liberation Serif', serif" font-size="16" text-anchor="end">2017-Dec</text>
<text transform="translate(102.27,996.7) rotate(-90) scale(1,1.05)" font-family="'Liberation Serif', serif" font-size="16" text-anchor="end">2018-Apr</text>
<text transform="translate(129.93,996.7) rotate(-90) scale(1,1.05)" font-family="'Liberation Serif', serif" font-size="16" text-anchor="end">2018-Aug</text>
<text transform="translate(157.60,996.7) rotate(-90) scale(1,1.05)" font-family="'Liberation Serif', serif" font-size="16" text-anchor="end">2018-Dec</text>
<text transform="translate(185.27,996.7) rotate(-90) scale(1,1.05)" font-family="'Liberation Serif', serif" font-size="16" text-anchor="end">2019-Apr</text>
<text transform="translate(212.93,996.7) rotate(-90) scale(1,1.05)" font-family="'Liberation Serif', serif" font-size="16" text-anchor="end">2019-Aug</text>
<text transform="translate(240.60,996.7) rotate(-90) scale(1,1.05)" font-family="'Liberation Serif', serif" font-size="16" text-anchor="end">2019-Dec</text>
<text transform="translate(268.27,996.7) rotate(-90) scale(1,1.05)" font-family="'Liberation Serif', serif" font-size="16" text-anchor="end">2020-Apr</text>
<text transform="translate(295.93,996.7) rotate(-90) scale(1,1.05)" font-family="'Liberation Serif', serif" font-size="16" text-anchor="end">2020-Aug</text>
<text transform="translate(323.60,996.7) rotate(-90) scale(1,1.05)" font-family="'Liberation Serif', serif" font-size="16" text-anchor="end">2020-Dec</text>
<text transform="translate(351.27,996.7) rotate(-90) scale(1,1.05)" font-family="'Liberation Serif', serif" font-size="16" text-anchor="end">2021-Apr</text>
<text transform="translate(378.93,996.7) rotate(-90) scale(1,1.05)" font-family="'Liberation Serif', serif" font-size="16" text-anchor="end">2021-Aug</text>
<text transform="translate(406.60,996.7) rotate(-90) scale(1,1.05)" font-family="'Liberation Serif', serif" font-size="16" text-anchor="end">2021-Dec</text>
<text transform="translate(434.27,996.7) rotate(-90) scale(1,1.05)" font-family="'Liberation Serif', serif" font-size="16" text-anchor="end">2022-Apr</text>
<text transform="translate(461.93,996.7) rotate(-90) scale(1,1.05)" font-family="'Liberation Serif', serif" font-size="16" text-anchor="end">2022-Aug</text>
<text transform="translate(489.60,996.7) rotate(-90) scale(1,1.05)" font-family="'Liberation Serif', serif" font-size="16" text-anchor="end">2022-Dec</text>
<text transform="translate(517.27,996.7) rotate(-90) scale(1,1.05)" font-family="'Liberation Serif', serif" font-size="16" text-anchor="end">2023-Apr</text>
<text transform="translate(544.93,996.7) rotate(-90) scale(1,1.05)" font-family="'Liberation Serif', serif" font-size="16" text-anchor="end">2023-Aug</text>
<text transform="translate(572.60,996.7) rotate(-90) scale(1,1.05)" font-family="'Liberation Serif', serif" font-size="16" text-anchor="end">2023-Dec</text>
<text transform="translate(288,755.5) scale(1,1.07)" font-family="'Liberation Serif', serif" font-size="21" font-weight="bold" text-anchor="middle">HYOAS</text>
<text transform="translate(21.30,884.3) rotate(-90)" font-family="'Liberation Serif', serif" font-size="19" font-weight="bold" text-anchor="middle">Percent</text>
<polyline points="69.2,924.2 71.2,926.7 73.3,928.3 76.7,930.0 78.8,927.1 80.0,922.9 82.1,926.2 83.3,926.7 86.7,924.6 89.2,923.3 90.0,920.8 92.5,921.7 93.8,927.5 95.4,931.2 97.1,926.2 99.2,926.7 100.8,929.2 103.8,922.9 105.8,927.5 108.3,929.6 110.0,928.3 112.5,920.8 115.0,924.2 116.7,925.8 119.6,928.8 122.1,925.4 124.2,927.1 126.7,926.7 129.2,928.8 130.0,930.8 131.7,929.6 133.3,932.1 134.6,925.8 136.7,925.0 139.2,920.8 141.2,924.2 142.5,918.3 143.8,914.6 145.4,912.9 147.5,911.7 149.6,909.6 150.8,900.8 152.1,894.2 153.8,895.0 155.0,902.5 156.2,908.8 158.3,910.4 160.4,912.1 161.7,914.6 165.0,915.0 166.2,918.3 169.2,917.5 172.5,915.4 175.0,919.2 177.5,922.9 181.2,921.7 183.3,915.0 185.8,915.8 188.3,908.8 190.8,911.7 192.9,915.8 195.8,917.5 200.8,918.3 201.7,907.5 205.0,909.2 206.7,913.3 209.2,913.8 212.1,920.8 215.0,917.5 215.8,912.1 218.3,912.5 219.2,917.1 221.7,917.9 226.7,915.0 230.8,917.1 233.3,924.6 235.8,924.6 238.8,927.5 241.7,925.8 242.5,920.0 245.0,922.1 247.9,922.6 248.7,911.6 251.1,904.3 252.4,878.5 253.6,841.8 255.4,815.5 256.6,823.4 257.3,834.4 258.5,835.6 260.3,855.2 262.8,852.2 264.6,856.5 267.1,857.1 269.5,871.2 270.7,886.5 273.8,886.5 277.5,878.5 279.9,882.2 281.8,895.7 284.8,900.0 287.9,896.3 291.0,901.8 294.0,898.1 297.1,893.2 300.8,903.0 304.4,895.7 307.5,910.4 310.0,910.4 314.2,916.5 317.3,916.5 321.0,922.0 325.3,920.8 330.2,927.5 335.7,923.3 340.0,929.0 342.1,930.8 344.2,928.8 346.7,930.4 350.4,927.1 353.3,928.8 356.7,932.1 358.8,931.7 361.2,934.6 364.2,931.7 368.3,927.1 371.7,928.8 375.0,930.8 378.3,933.3 380.8,931.7 382.5,928.8 385.4,932.5 387.9,931.7 390.0,934.2 391.7,931.7 395.0,923.8 396.7,930.4 399.2,928.3 402.1,934.6 405.0,934.2 408.3,930.4 409.2,926.2 411.7,926.2 412.9,921.7 415.8,921.2 418.8,917.5 420.4,921.7 422.5,929.2 425.0,921.2 427.5,925.4 430.0,915.0 432.9,902.5 436.2,915.8 437.9,906.7 439.2,909.2 441.7,889.6 445.0,886.7 447.5,901.7 449.6,899.6 452.5,911.7 455.0,912.1 457.1,900.0 460.0,905.0 462.5,903.3 462.9,893.3 466.7,895.0 469.2,903.3 471.2,907.1 472.9,900.4 475.8,909.2 479.2,906.2 481.2,911.7 484.6,905.0 488.3,913.3 490.8,911.7 494.2,917.1 496.7,910.4 499.2,915.4 501.0,916.0 501.7,897.3 504.0,901.3 506.7,902.7 509.0,910.7 512.7,903.3 515.3,904.3 519.3,906.0 521.7,914.7 525.0,912.7 526.7,917.3 530.7,919.3 533.7,917.7 536.7,921.3 538.3,919.3 540.3,921.7 542.3,919.7 544.7,921.3 548.0,911.7 550.7,913.3 554.0,908.7 555.3,910.0 556.0,916.0 558.0,918.7 560.7,921.3 564.0,921.0 564.7,926.7 567.3,928.0" fill="none" stroke="#000" stroke-width="4.3" stroke-linejoin="round" stroke-linecap="round"/>
<line x1="695.6" y1="782.20" x2="1193" y2="782.20" stroke="#d9d9d9" stroke-width="1.1"/>
<line x1="695.6" y1="807.66" x2="1193" y2="807.66" stroke="#d9d9d9" stroke-width="1.1"/>
<line x1="695.6" y1="833.12" x2="1193" y2="833.12" stroke="#d9d9d9" stroke-width="1.1"/>
<line x1="695.6" y1="858.59" x2="1193" y2="858.59" stroke="#d9d9d9" stroke-width="1.1"/>
<line x1="695.6" y1="884.05" x2="1193" y2="884.05" stroke="#d9d9d9" stroke-width="1.1"/>
<line x1="695.6" y1="909.51" x2="1193" y2="909.51" stroke="#d9d9d9" stroke-width="1.1"/>
<line x1="695.6" y1="934.98" x2="1193" y2="934.98" stroke="#d9d9d9" stroke-width="1.1"/>
<line x1="695.6" y1="960.44" x2="1193" y2="960.44" stroke="#d9d9d9" stroke-width="1.1"/>
<line x1="695.6" y1="985.90" x2="1193" y2="985.90" stroke="#d9d9d9" stroke-width="1.1"/>
<text transform="translate(682.6,788.10) scale(1,1.0)" font-family="'Liberation Serif', serif" font-size="16" text-anchor="end">80.0</text>
<text transform="translate(682.6,813.56) scale(1,1.0)" font-family="'Liberation Serif', serif" font-size="16" text-anchor="end">70.0</text>
<text transform="translate(682.6,839.02) scale(1,1.0)" font-family="'Liberation Serif', serif" font-size="16" text-anchor="end">60.0</text>
<text transform="translate(682.6,864.49) scale(1,1.0)" font-family="'Liberation Serif', serif" font-size="16" text-anchor="end">50.0</text>
<text transform="translate(682.6,889.95) scale(1,1.0)" font-family="'Liberation Serif', serif" font-size="16" text-anchor="end">40.0</text>
<text transform="translate(682.6,915.41) scale(1,1.0)" font-family="'Liberation Serif', serif" font-size="16" text-anchor="end">30.0</text>
<text transform="translate(682.6,940.88) scale(1,1.0)" font-family="'Liberation Serif', serif" font-size="16" text-anchor="end">20.0</text>
<text transform="translate(682.6,966.34) scale(1,1.0)" font-family="'Liberation Serif', serif" font-size="16" text-anchor="end">10.0</text>
<text transform="translate(682.6,991.80) scale(1,1.0)" font-family="'Liberation Serif', serif" font-size="16" text-anchor="end">0.0</text>
<text transform="translate(701.20,997) rotate(-90) scale(1,1.05)" font-family="'Liberation Serif', serif" font-size="16" text-anchor="end">2017-Dec</text>
<text transform="translate(728.83,997) rotate(-90) scale(1,1.05)" font-family="'Liberation Serif', serif" font-size="16" text-anchor="end">2018-Apr</text>
<text transform="translate(756.47,997) rotate(-90) scale(1,1.05)" font-family="'Liberation Serif', serif" font-size="16" text-anchor="end">2018-Aug</text>
<text transform="translate(784.10,997) rotate(-90) scale(1,1.05)" font-family="'Liberation Serif', serif" font-size="16" text-anchor="end">2018-Dec</text>
<text transform="translate(811.73,997) rotate(-90) scale(1,1.05)" font-family="'Liberation Serif', serif" font-size="16" text-anchor="end">2019-Apr</text>
<text transform="translate(839.37,997) rotate(-90) scale(1,1.05)" font-family="'Liberation Serif', serif" font-size="16" text-anchor="end">2019-Aug</text>
<text transform="translate(867.00,997) rotate(-90) scale(1,1.05)" font-family="'Liberation Serif', serif" font-size="16" text-anchor="end">2019-Dec</text>
<text transform="translate(894.63,997) rotate(-90) scale(1,1.05)" font-family="'Liberation Serif', serif" font-size="16" text-anchor="end">2020-Apr</text>
<text transform="translate(922.27,997) rotate(-90) scale(1,1.05)" font-family="'Liberation Serif', serif" font-size="16" text-anchor="end">2020-Aug</text>
<text transform="translate(949.90,997) rotate(-90) scale(1,1.05)" font-family="'Liberation Serif', serif" font-size="16" text-anchor="end">2020-Dec</text>
<text transform="translate(977.53,997) rotate(-90) scale(1,1.05)" font-family="'Liberation Serif', serif" font-size="16" text-anchor="end">2021-Apr</text>
<text transform="translate(1005.17,997) rotate(-90) scale(1,1.05)" font-family="'Liberation Serif', serif" font-size="16" text-anchor="end">2021-Aug</text>
<text transform="translate(1032.80,997) rotate(-90) scale(1,1.05)" font-family="'Liberation Serif', serif" font-size="16" text-anchor="end">2021-Dec</text>
<text transform="translate(1060.43,997) rotate(-90) scale(1,1.05)" font-family="'Liberation Serif', serif" font-size="16" text-anchor="end">2022-Apr</text>
<text transform="translate(1088.07,997) rotate(-90) scale(1,1.05)" font-family="'Liberation Serif', serif" font-size="16" text-anchor="end">2022-Aug</text>
<text transform="translate(1115.70,997) rotate(-90) scale(1,1.05)" font-family="'Liberation Serif', serif" font-size="16" text-anchor="end">2022-Dec</text>
<text transform="translate(1143.33,997) rotate(-90) scale(1,1.05)" font-family="'Liberation Serif', serif" font-size="16" text-anchor="end">2023-Apr</text>
<text transform="translate(1170.97,997) rotate(-90) scale(1,1.05)" font-family="'Liberation Serif', serif" font-size="16" text-anchor="end">2023-Aug</text>
<text transform="translate(1198.60,997) rotate(-90) scale(1,1.05)" font-family="'Liberation Serif', serif" font-size="16" text-anchor="end">2023-Dec</text>
<text transform="translate(914,755.5) scale(1,1.07)" font-family="'Liberation Serif', serif" font-size="21" font-weight="bold" text-anchor="middle">VXN</text>
<text transform="translate(646.00,884.5) rotate(-90)" font-family="'Liberation Serif', serif" font-size="19" font-weight="bold" text-anchor="middle">Percent</text>
<polyline points="695.8,949.2 697.5,949.2 700.0,945.0 702.5,940.0 704.2,933.3 705.4,922.9 707.1,933.3 707.9,927.9 710.0,929.2 712.9,936.2 714.6,931.7 716.2,908.8 718.8,916.7 721.2,935.8 722.9,926.7 724.2,934.2 726.7,941.7 730.4,942.9 732.5,945.4 735.4,942.5 736.7,927.5 739.2,929.2 740.4,940.0 742.5,944.2 745.0,938.3 746.7,948.3 748.3,940.8 750.0,945.8 752.5,938.3 755.0,942.5 756.7,942.5 759.6,941.7 760.4,915.8 761.7,927.5 764.2,907.9 766.7,928.8 768.3,913.3 772.1,924.2 775.8,918.3 778.3,900.0 782.1,924.2 785.0,923.3 786.2,931.7 788.3,935.8 791.7,940.0 794.2,940.0 795.4,947.1 797.1,944.2 798.8,937.9 800.4,942.5 802.5,942.5 804.6,945.8 806.2,941.7 808.3,928.3 810.0,935.0 812.5,928.3 813.8,933.3 816.7,932.5 817.5,938.3 819.6,934.2 820.8,944.2 823.3,940.0 825.4,946.7 828.3,926.7 830.8,918.8 832.5,935.0 834.2,925.8 835.8,931.7 837.9,938.8 840.0,938.3 841.7,925.0 844.6,928.8 845.4,940.0 848.3,941.7 850.0,944.2 854.2,948.3 855.8,939.2 857.5,940.8 859.2,948.3 861.7,944.2 863.8,941.7 865.8,945.4 868.3,942.5 868.8,935.4 872.1,939.2 874.5,937.3 875.3,907.2 877.5,899.6 878.3,852.9 879.0,830.2 880.3,797.0 881.3,818.2 881.3,842.3 883.6,842.3 884.3,877.0 887.3,878.5 888.9,901.9 891.9,893.6 893.4,910.2 897.1,915.5 900.9,901.1 903.9,910.2 907.0,893.6 909.2,908.7 911.5,913.2 915.2,911.7 917.5,890.6 920.5,888.3 923.5,890.6 928.1,898.1 931.1,876.0 932.6,901.1 936.4,919.2 940.1,911.0 944.7,918.5 947.7,911.7 949.9,917.7 951.4,885.5 953.7,914.7 956.7,914.7 959.7,899.6 963.5,911.7 966.7,918.3 968.3,926.7 971.7,929.2 973.3,918.3 974.6,904.6 976.2,905.8 977.5,918.3 977.9,928.3 981.7,929.6 984.2,935.0 987.5,931.2 990.0,935.8 992.5,931.2 995.8,934.2 996.2,923.3 997.9,922.5 999.6,936.7 1002.5,934.2 1004.2,934.2 1006.2,917.5 1010.0,921.7 1011.2,938.3 1013.8,936.2 1015.4,935.8 1015.8,926.7 1017.9,925.8 1018.8,930.8 1020.0,907.5 1021.7,907.5 1023.3,925.0 1027.5,932.5 1028.8,920.0 1030.8,926.7 1032.5,888.3 1034.2,888.8 1036.7,917.5 1039.6,910.0 1040.0,895.8 1043.3,894.6 1044.2,903.3 1048.3,919.2 1051.2,915.8 1052.9,916.7 1053.3,891.7 1055.4,905.0 1057.1,882.5 1060.8,887.5 1061.5,893.4 1063.4,907.3 1065.3,900.2 1066.8,894.1 1069.4,894.9 1070.2,899.4 1072.4,899.4 1072.8,908.5 1075.5,910.0 1078.5,920.2 1081.1,916.0 1082.6,903.9 1085.6,905.1 1088.3,895.6 1090.5,898.3 1092.4,885.5 1094.7,894.1 1096.2,904.3 1099.2,903.2 1101.1,916.8 1103.7,917.9 1105.2,914.9 1108.3,922.4 1110.2,914.1 1112.0,913.7 1115.8,923.5 1118.4,924.7 1119.6,917.5 1121.3,924.7 1122.7,914.0 1124.7,915.3 1126.0,924.7 1128.0,911.7 1130.0,915.3 1131.0,920.7 1131.3,924.7 1132.3,922.3 1135.0,923.3 1134.3,931.3 1137.3,928.0 1139.3,930.0 1140.0,936.0 1142.0,938.0 1143.0,928.7 1145.7,929.3 1146.3,937.3 1148.0,934.7 1151.3,934.3 1154.7,936.0 1157.7,937.3 1158.7,928.7 1161.3,930.0 1162.7,928.7 1165.3,930.7 1165.7,938.0 1168.0,939.7 1170.7,928.0 1173.3,927.0 1175.0,934.7 1176.0,927.0 1178.3,922.7 1180.0,924.0 1181.0,932.7 1182.3,938.7 1183.3,940.7 1184.7,944.0 1186.7,942.7 1189.0,947.3 1190.7,943.3 1192.7,945.3" fill="none" stroke="#000" stroke-width="4.3" stroke-linejoin="round" stroke-linecap="round"/>
</svg>
</body></html>
